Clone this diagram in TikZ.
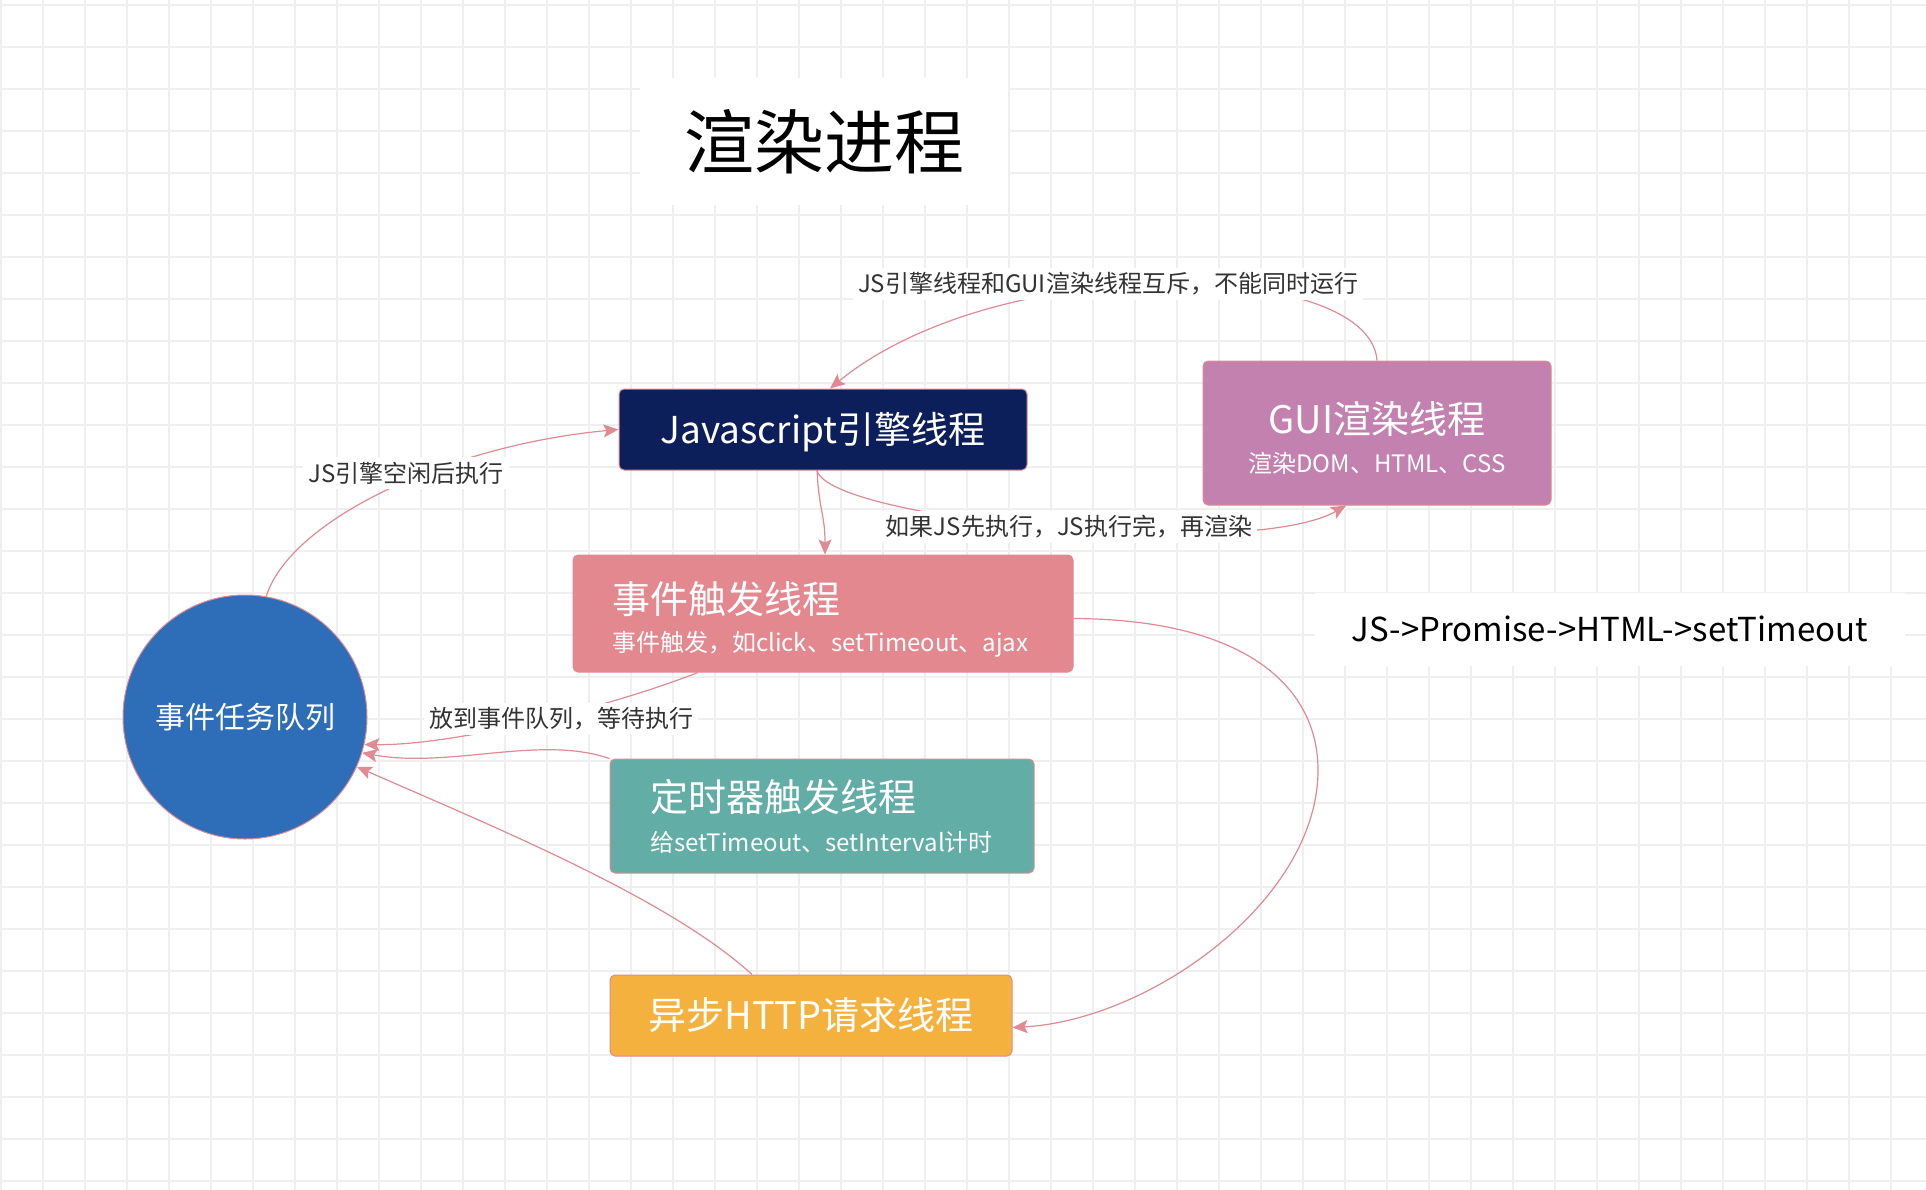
\documentclass[tikz,border=0pt]{standalone}
\usepackage{fontspec}
\setmainfont{Noto Sans CJK SC}
\usetikzlibrary{arrows.meta}
\definecolor{jsblue}{HTML}{0C1F5B}
\definecolor{guimauve}{HTML}{C281AE}
\definecolor{evtpink}{HTML}{E4888F}
\definecolor{timerteal}{HTML}{62ADA5}
\definecolor{httporange}{HTML}{F4B13D}
\definecolor{queueblue}{HTML}{2E6DB8}
\definecolor{linkpink}{HTML}{E08A93}
\definecolor{gridgray}{HTML}{EFEFEF}
\definecolor{lbltext}{HTML}{333333}
\newcommand{\pxsize}[2]{\fontsize{#1}{#2}\selectfont}

\begin{document}
\begin{tikzpicture}[x=1pt, y=-1pt,
    gridline/.style={color=gridgray, line width=1.4pt},
    thread/.style={draw=linkpink, line width=1pt, rounded corners=5pt, text=white, inner sep=0pt},
    link/.style={draw=linkpink, line width=1.2pt, -{Stealth[length=15pt, width=13pt, inset=3pt]}},
    lbl/.style={fill=white, text=lbltext, inner sep=5pt, font=\pxsize{24}{24}}]
               \useasboundingbox (0,0) rectangle (1926,1190);
               \fill[white] (0,0) rectangle (1926,1190);
               \foreach \gx in {1,43,...,1926}
                   \draw[gridline] (\gx,0) -- (\gx,1190);
               \foreach \gy in {5,47,...,1190}
                   \draw[gridline] (0,\gy) -- (1926,\gy);

               \node[fill=white, minimum width=368, minimum height=127, font=\pxsize{70}{70}] (title) at (824,141.5) {渲染进程};
               \node[fill=white, minimum width=590, minimum height=73, font=\pxsize{33}{33}] (order) at (1610,629) {JS->Promise->HTML->setTimeout};

               \node[thread, fill=jsblue, minimum width=408, minimum height=81, font=\pxsize{37}{37}] (js) at (823,429.5) {\rule{0pt}{36pt}Javascript引擎线程};
               \node[thread, fill=guimauve, minimum width=348, minimum height=144, align=center, font=\pxsize{24}{39}] (gui) at (1377,433) {{\pxsize{38}{38}\rule{0pt}{41pt}GUI渲染线程}\\渲染DOM、HTML、CSS};
               \node[thread, fill=evtpink, minimum width=500, minimum height=117, text width=422, inner xsep=39pt, align=left, font=\pxsize{24}{38}] (event) at (823,613.5) {{\pxsize{38}{38}\rule{0pt}{43pt}事件触发线程}\\事件触发，如click、setTimeout、ajax};
               \node[thread, fill=timerteal, minimum width=424, minimum height=114, text width=344, inner xsep=40pt, align=left, font=\pxsize{24}{40}] (timer) at (822,816) {{\pxsize{38}{38}定时器触发线程}\\给setTimeout、setInterval计时};
               \node[thread, fill=httporange, minimum width=402, minimum height=81, font=\pxsize{38}{38}] (http) at (811,1015.5) {异步HTTP请求线程};
               \node[circle, fill=queueblue, draw=linkpink, line width=1pt, minimum size=244, inner sep=0pt, text=white, font=\pxsize{30}{30}] (queue) at (245,717) {事件任务队列};

               \draw[link] (gui.north) .. controls +(-7,-101) and +(170,-139) .. ([xshift=7pt]js.north);
               \draw[link] ([xshift=-6pt]js.south) .. controls +(13,50) and +(-96,55) .. ([xshift=-31pt]gui.south);
               \draw[link] ([xshift=-6pt]js.south) .. controls +(2,40) and +(0,-40) .. ([xshift=2pt]event.north);
               \draw[link] ([xshift=-125pt]event.south) .. controls +(-98,38) and +(86,1) .. (queue.-13);
               \draw[link] (timer.north west) .. controls +(-70,-24) and +(88,16) .. (queue.-17);
               \draw[link] ([xshift=-59pt]http.north) .. controls +(-82,-75) and +(144,63) .. (queue.-24);
               \draw[link] (queue.80) .. controls +(24,-77) and +(-169,15.5) .. (js.west);
               \draw[link] ([yshift=-5pt]event.east) .. controls +(177,1) and (1318,690) .. (1318,770)
                   .. controls (1318,900) and +(138,-7.5) .. ([yshift=-12pt]http.east);

               \node[lbl] (lblMutex) at (1108,284) {JS引擎线程和GUI渲染线程互斥，不能同时运行};
               \node[lbl] (lblRender) at (1069,527) {如果JS先执行，JS执行完，再渲染};
               \node[lbl] (lblIdle) at (406,473) {JS引擎空闲后执行};
               \node[lbl] (lblQueue) at (561,719) {放到事件队列，等待执行};
\end{tikzpicture}
\end{document}
